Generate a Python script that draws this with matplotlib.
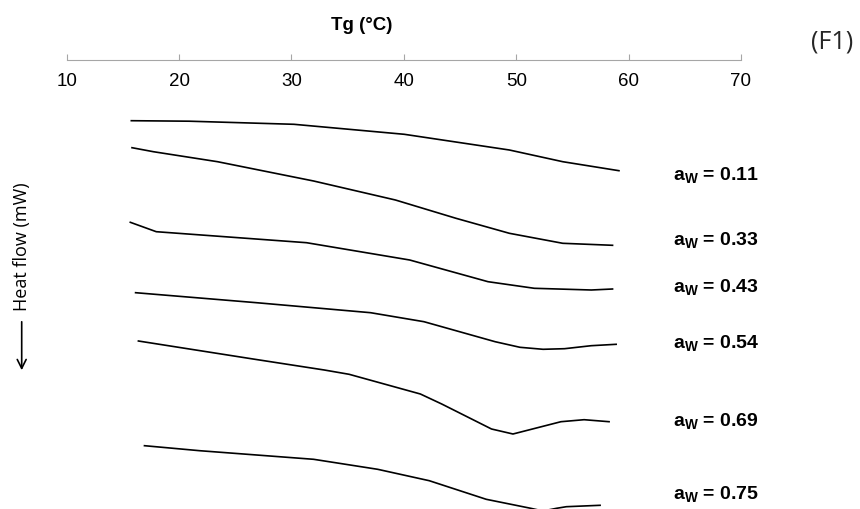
import matplotlib.pyplot as plt
from matplotlib.patches import FancyArrowPatch

plt.rcParams['font.family'] = ['Liberation Sans', 'DejaVu Sans']
plt.rcParams['mathtext.fontset'] = 'custom'
plt.rcParams['mathtext.bf'] = 'Liberation Sans:bold'
plt.rcParams['mathtext.rm'] = 'Liberation Sans'

# DSC curves, Tg (°C) vs heat flow (arbitrary offset, mW)
tg_011 = [15.75, 20.9, 30.22, 40.04, 49.39, 54.14, 59.14]
hf_011 = [-0.607, -0.612, -0.643, -0.743, -0.900, -1.017, -1.107]

tg_033 = [15.81, 17.71, 23.42, 31.97, 39.25, 44.64, 49.39, 54.14, 58.57]
hf_033 = [-0.877, -0.917, -1.017, -1.210, -1.400, -1.583, -1.733, -1.833, -1.853]

tg_043 = [15.66, 17.97, 31.34, 40.52, 47.49, 51.61, 56.68, 58.57]
hf_043 = [-1.623, -1.717, -1.827, -2.000, -2.217, -2.283, -2.300, -2.290]

tg_054 = [16.13, 26.89, 37.04, 41.79, 48.12, 50.33, 52.39, 54.30, 56.67, 58.89]
hf_054 = [-2.327, -2.427, -2.527, -2.617, -2.817, -2.873, -2.893, -2.887, -2.857, -2.843]

tg_069 = [16.38, 26.58, 32.92, 35.13, 41.47, 43.37, 47.80, 49.71, 53.98, 56.04, 58.26]
hf_069 = [-2.810, -2.990, -3.100, -3.143, -3.340, -3.440, -3.690, -3.740, -3.617, -3.597, -3.617]

tg_075 = [16.92, 21.83, 31.97, 37.67, 42.26, 47.33, 51.29, 52.38, 53.59, 54.46, 57.46]
hf_075 = [-3.857, -3.907, -3.993, -4.093, -4.207, -4.393, -4.483, -4.510, -4.483, -4.467, -4.453]

labels = ['0.11', '0.33', '0.43', '0.54', '0.69', '0.75']
label_y = [-1.16, -1.807, -2.283, -2.84, -3.617, -4.35]
label_x = 63.94

curves = [(tg_011, hf_011), (tg_033, hf_033), (tg_043, hf_043),
          (tg_054, hf_054), (tg_069, hf_069), (tg_075, hf_075)]

fig = plt.figure(figsize=(8.6, 5.09), dpi=100)
ax = fig.add_axes([66.7 / 860, 0, (741 - 66.7) / 860, 449 / 509])

for x, y in curves:
    ax.plot(x, y, color='black', lw=1.2)

ax.set_xlim(10, 70)
ax.set_ylim(-4.49, 0)
ax.set_xticks(range(10, 71, 10))
ax.set_yticks([])

for s in ['left', 'right', 'top']:
    ax.spines[s].set_visible(False)
ax.spines['bottom'].set_position(('axes', 1.0))
ax.spines['bottom'].set_color('#a6a6a6')
ax.tick_params(axis='x', direction='in', length=4, color='#a6a6a6',
               labelsize=13.5, pad=9)

for lab, yy in zip(labels, label_y):
    ax.text(label_x, yy, r'a$_\mathbf{W}$ = ' + lab, fontsize=14, fontweight='bold',
            va='center', ha='left', clip_on=False)

fig.text(362 / 860, 1 - 25 / 509, 'Tg (°C)', fontsize=13.5, fontweight='bold',
         ha='center', va='center')
fig.text(832 / 860, 1 - 42 / 509, '(F1)', fontsize=18, color='#262626',
         family='Open Sans', ha='center', va='center')

fig.text(21.7 / 860, 1 - 246.7 / 509, 'Heat flow (mW)', rotation=90,
         fontsize=13, family='Open Sans', ha='center', va='center')
fig.patches.append(FancyArrowPatch(
    (21.7 / 860, 1 - 319 / 509), (21.7 / 860, 1 - 373 / 509),
    transform=fig.transFigure, arrowstyle='->', mutation_scale=16,
    lw=1.2, color='black'))

plt.savefig('out.png', dpi=100)
